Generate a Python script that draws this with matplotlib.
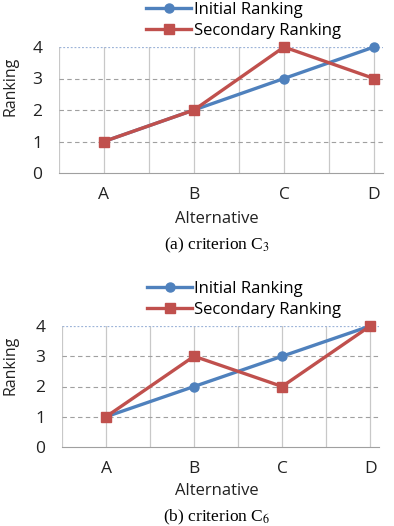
import matplotlib
matplotlib.use("Agg")
import matplotlib.pyplot as plt

# Дані
alternatives = ["A", "B", "C", "D"]
initial_c3 = [1, 2, 3, 4]
secondary_c3 = [1, 2, 4, 3]
initial_c6 = [1, 2, 3, 4]
secondary_c6 = [1, 3, 2, 4]
y_ticks = [0, 1, 2, 3, 4]
captions = ["(a) criterion C$_3$", "(b) criterion C$_6$"]

blue = "#4F81BD"
red = "#C0504D"
sans = "Open Sans"
plt.rcParams["mathtext.fontset"] = "stix"

fig = plt.figure(figsize=(3.94, 5.26), dpi=100)


def draw_panel(rect, initial, secondary, legend_xy, xlabel_y, ylabel_xy, caption, caption_y):
    ax = fig.add_axes(rect)
    x = list(range(len(alternatives)))
    ax.plot(x, initial, color=blue, lw=2.4, marker="o", ms=6.5, label="Initial Ranking", clip_on=False, zorder=3)
    ax.plot(x, secondary, color=red, lw=2.4, marker="s", ms=7.5, label="Secondary Ranking", clip_on=False, zorder=4)
    ax.set_xlim(-0.5, 3.1)
    ax.set_ylim(0, 4)
    ax.set_xticks(x)
    ax.set_xticklabels(alternatives)
    ax.set_yticks(y_ticks)
    # сітка
    for v in [-0.5, 0, 0.5, 1, 1.5, 2, 2.5, 3]:
        ax.axvline(v, color="#c8c8c8", lw=0.9, zorder=0)
    for h in y_ticks[1:-1]:
        ax.axhline(h, color="#a0a0a0", lw=0.8, ls=(0, (4, 3)), zorder=0)
    ax.axhline(4, color="#9db4d8", lw=0.9, ls=(0, (1.5, 1.5)), zorder=0)
    for s in ["top", "right", "left"]:
        ax.spines[s].set_visible(False)
    ax.spines["bottom"].set_color("#a0a0a0")
    ax.tick_params(length=0, labelsize=12.5, colors="#222222")
    ax.tick_params(axis="x", pad=10)
    ax.tick_params(axis="y", pad=12)
    for t in ax.get_xticklabels() + ax.get_yticklabels():
        t.set_family(sans)
    ax.legend(loc="upper left", bbox_to_anchor=legend_xy, bbox_transform=fig.transFigure,
              frameon=False, handlelength=2.7, handletextpad=0.15, labelspacing=0.3,
              borderpad=0, borderaxespad=0, prop={"family": sans, "size": 12})
    fig.text(0.5 * (rect[0] * 2 + rect[2]) - 0.01, xlabel_y, "Alternative", family=sans, size=12,
             ha="center", va="center", color="#222222")
    fig.text(ylabel_xy[0], ylabel_xy[1], "Ranking", family=sans, size=11.5, rotation=90,
             ha="center", va="center", color="#222222")
    fig.text(0.5 * (rect[0] * 2 + rect[2]) - 0.01, caption_y, caption, family="Liberation Serif", size=12.5,
             ha="center", va="center")


draw_panel([59 / 394, 1 - 173 / 526, 324 / 394, 126 / 526], initial_c3, secondary_c3,
           (146 / 394, 1 - 2 / 526), 1 - 219 / 526, (10 / 394, 1 - 86 / 526), captions[0], 1 - 245 / 526)
draw_panel([62 / 394, 1 - 447 / 526, 317 / 394, 121 / 526], initial_c6, secondary_c6,
           (147 / 394, 1 - 281 / 526), 1 - 491 / 526, (10 / 394, 1 - 365 / 526), captions[1], 1 - 517 / 526)

fig.savefig("out.png", dpi=100)
